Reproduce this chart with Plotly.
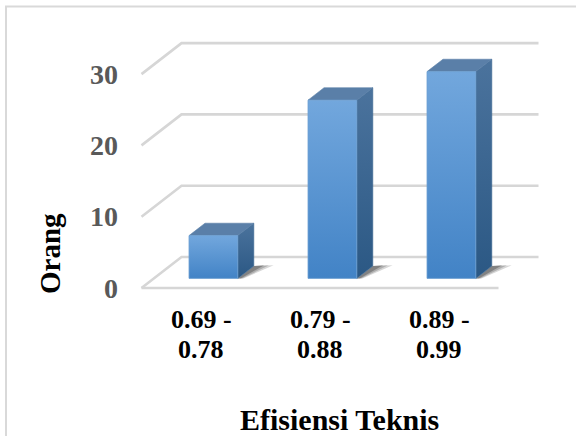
import plotly.graph_objects as go

# Data
categories = ["0.69 -<br>0.78", "0.79 -<br>0.88", "0.89 -<br>0.99"]
values = [6, 25, 29]
y_ticks = [0, 10, 20, 30]
x_title = "Efisiensi Teknis"
y_title = "Orang"

# Oblique 3-D projection (depth z in [0, 1], floor front at z=0, back wall at z=1)
DX = 40 / 119      # category units per unit depth
DY = 31 / 7.13     # value units per unit depth
BAR_Z0, BAR_Z1 = 0.31, 0.71
HALF_W = 0.205
X_LO, X_HI = -0.5, len(categories) - 0.5
PX_PER_UNIT = 7.13


def proj(x, z, v):
    return x + z * DX, v + z * DY


def poly(points):
    xs, ys = zip(*[proj(*p) for p in points])
    return list(xs) + [xs[0]], list(ys) + [ys[0]]


fig = go.Figure()
grid_col = "#d6d6d6"

# back wall gridlines and the left diagonal edges
for v in y_ticks:
    xs, ys = zip(proj(X_LO, 0, v), proj(X_LO, 1, v), proj(X_HI, 1, v))
    fig.add_trace(go.Scatter(x=xs, y=ys, mode="lines",
                             line=dict(color=grid_col, width=2.6),
                             hoverinfo="skip", showlegend=False))
# front floor edge
xs, ys = zip(proj(X_LO, 0, 0), proj(X_HI, 0, 0))
fig.add_trace(go.Scatter(x=xs, y=ys, mode="lines",
                         line=dict(color=grid_col, width=2.6),
                         hoverinfo="skip", showlegend=False))

for i, v in enumerate(values):
    xl, xr = i - HALF_W, i + HALF_W
    # soft floor shadow behind the right side
    for k, a in enumerate([0.18, 0.22, 0.3]):
        ext = 0.16 - k * 0.04
        sx, sy = poly([(xr, BAR_Z0, 0), (xr, BAR_Z1, 0),
                       (xr + ext, BAR_Z1 + 0.02, 0), (xr + ext * 0.3, BAR_Z0, 0)])
        fig.add_trace(go.Scatter(x=sx, y=sy, mode="lines", fill="toself",
                                 line=dict(width=0), fillcolor=f"rgba(30,30,30,{a})",
                                 hoverinfo="skip", showlegend=False))
    # right side face
    sx, sy = poly([(xr, BAR_Z0, 0), (xr, BAR_Z1, 0), (xr, BAR_Z1, v), (xr, BAR_Z0, v)])
    fig.add_trace(go.Scatter(x=sx, y=sy, mode="lines", fill="toself",
                             line=dict(width=0.6, color="#3a6690"),
                             fillgradient=dict(type="vertical",
                                               colorscale=[[0, "#2b5884"], [1, "#4b739d"]]),
                             hoverinfo="skip", showlegend=False))
    # top face
    sx, sy = poly([(xl, BAR_Z0, v), (xr, BAR_Z0, v), (xr, BAR_Z1, v), (xl, BAR_Z1, v)])
    fig.add_trace(go.Scatter(x=sx, y=sy, mode="lines", fill="toself",
                             line=dict(width=0.6, color="#5a7fa8"),
                             fillcolor="#5a7fa8",
                             hoverinfo="skip", showlegend=False))
    # front face
    sx, sy = poly([(xl, BAR_Z0, 0), (xr, BAR_Z0, 0), (xr, BAR_Z0, v), (xl, BAR_Z0, v)])
    fig.add_trace(go.Scatter(x=sx, y=sy, mode="lines", fill="toself",
                             line=dict(width=0.8, color="#6d9fd2"),
                             fillgradient=dict(type="vertical",
                                               colorscale=[[0, "#4283c6"], [1, "#72a7dd"]]),
                             hoverinfo="skip", showlegend=False))

serif = "Liberation Serif, Times New Roman, serif"
annotations = []
# value axis labels
for v in y_ticks:
    annotations.append(dict(x=X_LO - 22 / 119, y=v, xref="x", yref="y",
                            text=f"<b>{v}</b>", showarrow=False,
                            xanchor="right", yanchor="middle",
                            font=dict(family=serif, size=28, color="#595959")))
# category labels, one annotation per text line
for i, c in enumerate(categories):
    for j, line in enumerate(c.split("<br>")):
        annotations.append(dict(x=i, y=-(31 + 30 * j) / PX_PER_UNIT, xref="x", yref="y",
                                text=f"<b>{line}</b>", showarrow=False,
                                xanchor="center", yanchor="middle",
                                font=dict(family=serif, size=26, color="#000000")))
# axis titles
annotations.append(dict(x=339 / 576, y=1 - 419 / 436, xref="paper", yref="paper",
                        text=f"<b>{x_title}</b>", showarrow=False,
                        xanchor="center", yanchor="middle",
                        font=dict(family=serif, size=30, color="#000000")))
annotations.append(dict(x=50 / 576, y=1 - 254 / 436, xref="paper", yref="paper",
                        text=f"<b>{y_title}</b>", showarrow=False, textangle=-90,
                        xanchor="center", yanchor="middle",
                        font=dict(family=serif, size=29, color="#000000")))

fig.update_layout(
    width=576, height=436,
    margin=dict(l=0, r=0, t=0, b=0),
    paper_bgcolor="white", plot_bgcolor="white",
    xaxis=dict(range=[-201 / 119, 375 / 119], visible=False, fixedrange=True),
    yaxis=dict(range=[-148 / PX_PER_UNIT, 288 / PX_PER_UNIT], visible=False, fixedrange=True),
    annotations=annotations,
    shapes=[dict(type="rect", xref="paper", yref="paper",
                 x0=6 / 576, y0=-0.05, x1=1.05, y1=1 - 6.5 / 436,
                 line=dict(color="#d9d9d9", width=2))],
    showlegend=False,
)

fig.write_html("out.html")
